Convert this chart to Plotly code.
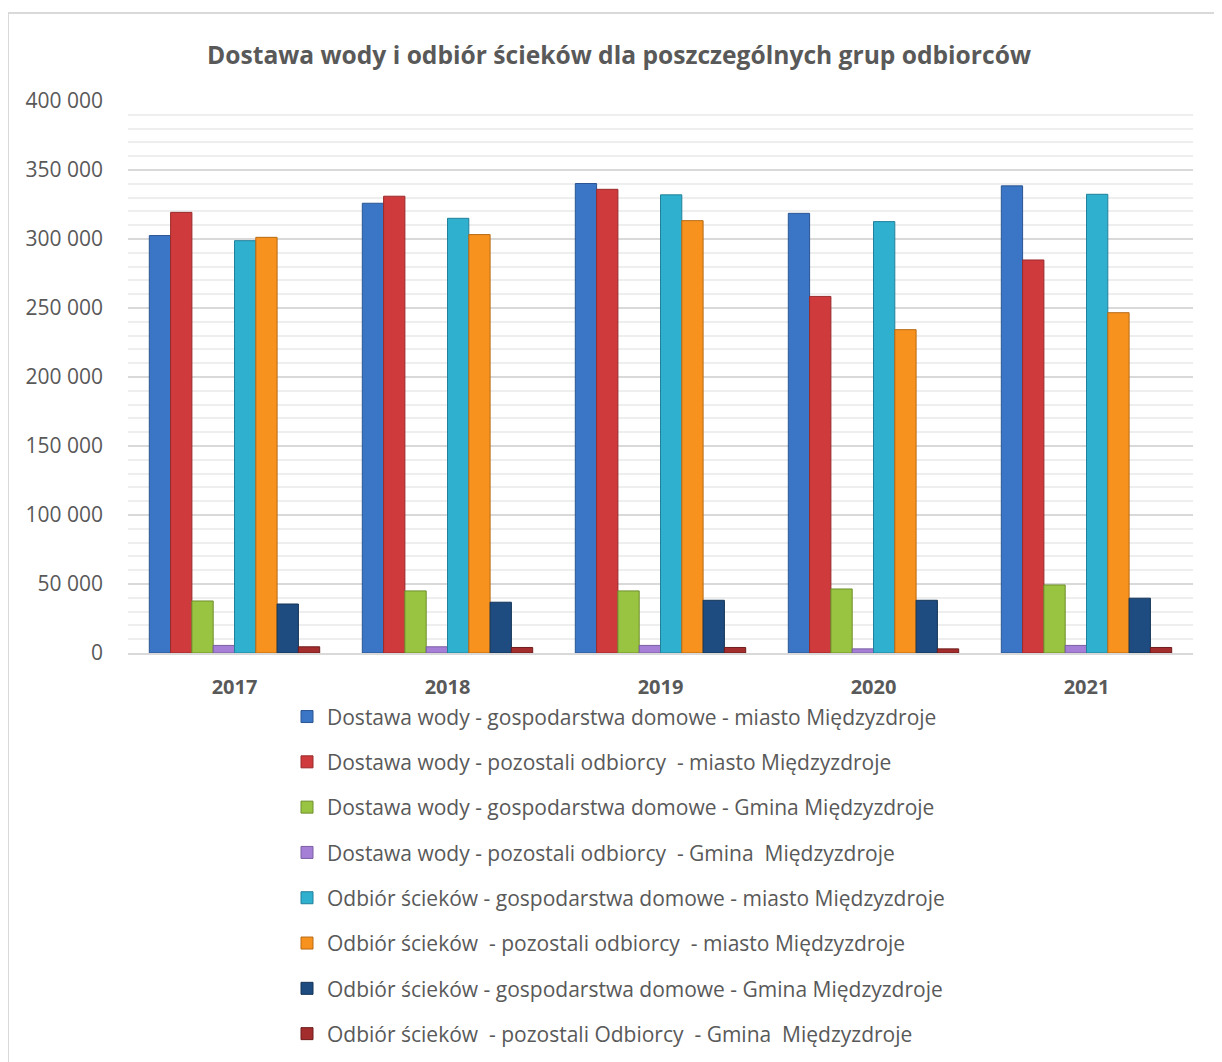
import plotly.graph_objects as go

years = ["2017", "2018", "2019", "2020", "2021"]

series_names = [
    "Dostawa wody - gospodarstwa domowe - miasto Międzyzdroje",
    "Dostawa wody - pozostali odbiorcy \u00a0- miasto Międzyzdroje",
    "Dostawa wody - gospodarstwa domowe - Gmina Międzyzdroje",
    "Dostawa wody - pozostali odbiorcy \u00a0- Gmina \u00a0Międzyzdroje",
    "Odbiór ścieków - gospodarstwa domowe - miasto Międzyzdroje",
    "Odbiór ścieków \u00a0- pozostali odbiorcy \u00a0- miasto Międzyzdroje",
    "Odbiór ścieków - gospodarstwa domowe - Gmina Międzyzdroje",
    "Odbiór ścieków \u00a0- pozostali Odbiorcy \u00a0- Gmina \u00a0Międzyzdroje",
]

woda_dom_miasto = [302500, 325900, 340200, 318600, 338500]
woda_poz_miasto = [319300, 331000, 336000, 258400, 284800]
woda_dom_gmina = [37700, 45000, 45000, 46400, 49300]
woda_poz_gmina = [5500, 4500, 5500, 3000, 5500]
scieki_dom_miasto = [298800, 315000, 332000, 312600, 332400]
scieki_poz_miasto = [301200, 303200, 313300, 234300, 246600]
scieki_dom_gmina = [35500, 36800, 38200, 38200, 39700]
scieki_poz_gmina = [4500, 4000, 4000, 3000, 4000]

series_values = [
    woda_dom_miasto, woda_poz_miasto, woda_dom_gmina, woda_poz_gmina,
    scieki_dom_miasto, scieki_poz_miasto, scieki_dom_gmina, scieki_poz_gmina,
]

colors = ["#3b76c6", "#cf3a3c", "#98c441", "#a57fd6", "#2fb0cf", "#f7921f", "#1e4b80", "#a32c2c"]
edges = ["#2a5592", "#9a2a2b", "#6f8f2e", "#7b5ea3", "#21809a", "#b86a14", "#143457", "#6e1d1d"]

fig = go.Figure()
for i, (name, vals) in enumerate(zip(series_names, series_values)):
    fig.add_trace(go.Bar(
        x=years, y=vals, name=name,
        marker=dict(color=colors[i], line=dict(color=edges[i], width=1)),
        legendgroup=f"g{i}",
    ))

font_family = "Open Sans, Liberation Sans, sans-serif"
text_color = "#595959"

# plot area in figure pixel coords
L, R, T, B = 120, 1185, 93, 645
W, H = R - L, B - T

fig.update_layout(
    width=1222, height=1062,
    paper_bgcolor="white", plot_bgcolor="white",
    margin=dict(l=L, r=1222 - R, t=T, b=1062 - B),
    barmode="group", bargap=0.2, bargroupgap=0,
    title=dict(
        text="<b>Dostawa wody i odbiór ścieków dla poszczególnych grup odbiorców</b>",
        x=0.5, xanchor="center", xref="container",
        y=1 - 47 / 1062, yanchor="middle",
        font=dict(family=font_family, size=24.6, color=text_color),
    ),
    font=dict(family=font_family, color=text_color),
    legend=dict(
        orientation="v", x=(279 - L) / W, xanchor="left", y=-0.0786, yanchor="top",
        font=dict(family=font_family, size=21, color=text_color),
        tracegroupgap=15, traceorder="grouped",
        bgcolor="rgba(0,0,0,0)",
    ),
    xaxis=dict(
        showgrid=False, showline=True, linecolor="#d9d9d9", linewidth=2,
        ticks="", tickfont=dict(family=font_family, size=20, color=text_color, weight="bold"),
        ticklabelstandoff=15,
    ),
    yaxis=dict(
        range=[0, 400000], tickvals=[0, 50000, 100000, 150000, 200000, 250000, 300000, 350000, 400000],
        ticktext=["0", "50 000", "100 000", "150 000", "200 000", "250 000", "300 000", "350 000", "400 000"],
        showgrid=True, gridcolor="#d9d9d9", gridwidth=1.5,
        minor=dict(dtick=10000, showgrid=True, gridcolor="#eeeeee", gridwidth=1.5),
        zeroline=False, showline=False,
        tickfont=dict(family=font_family, size=21, color=text_color),
        ticklabelstandoff=24,
    ),
    shapes=[dict(
        type="rect", xref="paper", yref="paper",
        x0=(0 - L) / W, x1=(1240 - L) / W,
        y0=(B - 1080) / H, y1=(B - 5) / H,
        line=dict(color="#d9d9d9", width=2), fillcolor="rgba(0,0,0,0)", layer="below",
    )],
)

fig.write_html("out.html")
